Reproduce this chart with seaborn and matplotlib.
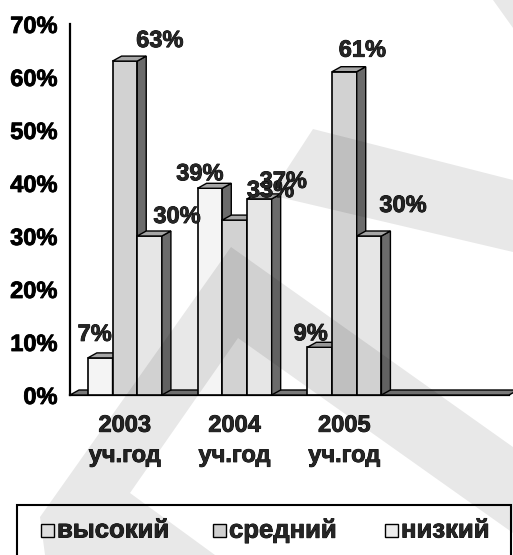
import matplotlib
matplotlib.use("Agg")
import matplotlib.pyplot as plt
import matplotlib.patheffects as pe
from matplotlib.patches import Polygon, Rectangle
import pandas as pd
import seaborn as sns

# ---- data -------------------------------------------------------------
years = ["2003\nуч.год", "2004\nуч.год", "2005\nуч.год"]
levels = ["высокий", "средний", "низкий"]
high = [7, 39, 9]
mid = [63, 33, 61]
low = [30, 37, 30]
y_ticks = [0, 10, 20, 30, 40, 50, 60, 70]

# ---- styles -----------------------------------------------------------
front_colors = {"высокий": "#f4f4f4", "средний": "#d2d2d2", "низкий": "#e6e6e6"}
legend_colors = {"высокий": "#f4f4f4", "средний": "#cfcfcf", "низкий": "#ececec"}
SIDE = "#6b6b6b"
TOP = "#a6a6a6"
FLOOR = "#7a7a7a"
DEPTH_X_PX, DEPTH_Y_PX = 9, 5
FS = 17
HEAVY = [pe.withStroke(linewidth=0.6, foreground="black")]
# value-label offsets (px): horizontal shift from bar centre, lift above bar top
label_offsets = [(-5.5, 17), (35, 14), (27.5, 13),
                 (-10, 8), (36, 23), (24, 11),
                 (-9, 7), (18, 15), (34, 24)]

sns.set_style("white")
plt.rcParams["font.family"] = ["Liberation Sans", "DejaVu Sans"]
plt.rcParams["font.weight"] = "bold"

W, H = 513, 555
fig = plt.figure(figsize=(W / 100, H / 100), dpi=100)
ax = fig.add_axes([70 / W, 1 - 395 / H, 439 / W, 371 / H])

df = pd.DataFrame({
    "год": years * 3,
    "уровень": [lv for lv in levels for _ in years],
    "доля": high + mid + low,
})

sns.barplot(data=df, x="год", y="доля", hue="уровень", order=years,
            hue_order=levels, palette=front_colors, width=0.675,
            saturation=1, edgecolor="black", linewidth=1.2,
            errorbar=None, legend=False, ax=ax)

ax.set_xlim(-0.5, 3.5)
ax.set_ylim(0, 70)

bars = sorted(list(ax.patches), key=lambda p: p.get_x())

# depth of the pseudo-3D boxes in data units
px_per_cat = 439 / 4
px_per_pct = 371 / 70
ddx = DEPTH_X_PX / px_per_cat
ddy = DEPTH_Y_PX / px_per_pct

# floor strip along the category axis
ax.add_patch(Polygon([(-0.5, 0), (3.5, 0), (3.5 + ddx, ddy), (-0.5 + ddx, ddy)],
                     closed=True, facecolor=FLOOR, edgecolor="black", lw=1.0,
                     zorder=1.5, clip_on=False))

# side and top faces for each bar, drawn left to right
values = [[high, mid, low][k][i] for i in range(3) for k in range(3)]
for n, (bar, val, (ox, oy)) in enumerate(zip(bars, values, label_offsets)):
    x0 = bar.get_x()
    x1 = x0 + bar.get_width()
    h = bar.get_height()
    z = 2 + n * 0.1
    bar.set_zorder(z)
    side = Polygon([(x1, 0), (x1 + ddx, ddy), (x1 + ddx, h + ddy), (x1, h)],
                   closed=True, facecolor=SIDE, edgecolor="black", lw=1.0,
                   zorder=z + 0.01, clip_on=False)
    top = Polygon([(x0, h), (x0 + ddx, h + ddy), (x1 + ddx, h + ddy), (x1, h)],
                  closed=True, facecolor=TOP, edgecolor="black", lw=1.0,
                  zorder=z + 0.02, clip_on=False)
    ax.add_patch(side)
    ax.add_patch(top)
    ax.annotate(f"{val}%", xy=((x0 + x1) / 2, h),
                xytext=(ox * 0.72, oy * 0.72), textcoords="offset points",
                ha="center", va="baseline", fontsize=FS,
                fontweight="bold", zorder=5, annotation_clip=False,
                path_effects=HEAVY)

# axes
for s in ["top", "right"]:
    ax.spines[s].set_visible(False)
for s in ["left", "bottom"]:
    ax.spines[s].set_linewidth(1.6)
    ax.spines[s].set_color("black")
    ax.spines[s].set_zorder(1.4)

ax.set_yticks(y_ticks)
ax.set_yticklabels([f"{t}%" for t in y_ticks])
ax.tick_params(axis="y", direction="out", length=6, width=1.5, pad=3,
               labelsize=FS, colors="black")

ax.set_xticks([-0.5, 0.5, 1.5, 2.5, 3.5])
ax.set_xticklabels([])
ax.set_xticks([0, 1, 2], labels=years, minor=True)
ax.tick_params(axis="x", which="major", direction="out", length=4,
               width=1.5, colors="black")
ax.tick_params(axis="x", which="minor", length=0, pad=13.5, labelsize=FS)
for lbl in ax.get_xticklabels(minor=True):
    lbl.set_linespacing(1.4)
    lbl.set_fontweight("bold")
    lbl.set_path_effects(HEAVY)
for lbl in ax.get_yticklabels():
    lbl.set_fontweight("bold")
    lbl.set_path_effects(HEAVY)

ax.set_xlabel("")
ax.set_ylabel("")
ax.grid(False)


def fx(x):
    return x / W


def fy(y):
    return 1 - y / H


# legend panel
fig.add_artist(Rectangle((fx(17), fy(560)), fx(511) - fx(17), fy(505) - fy(560),
                         transform=fig.transFigure, fill=False,
                         edgecolor="black", lw=1.5, zorder=3))
for lv, sx in zip(levels, [41, 213, 385]):
    fig.add_artist(Rectangle((fx(sx), fy(537)), 13 / W, 13 / H,
                             transform=fig.transFigure,
                             facecolor=legend_colors[lv], edgecolor="black",
                             lw=1.0, zorder=3))
    fig.text(fx(sx + 16), fy(530.5), lv, ha="left", va="center",
             fontsize=18.5, fontweight="bold", zorder=3, path_effects=HEAVY)

# light diagonal bands across the sheet
bands = [
    [(40, 517), (231, 247), (513, 447), (513, 533), (238, 338),
     (130, 493), (215, 555), (45, 555)],
    [(313, 129), (513, 180), (513, 252), (270, 195)],
    [(493, 0), (513, 0), (513, 28)],
]
for pts in bands:
    fig.add_artist(Polygon([(fx(x), fy(y)) for x, y in pts], closed=True,
                           transform=fig.transFigure, facecolor="black",
                           edgecolor="none", alpha=0.09, zorder=10))

fig.savefig("out.png", dpi=100)
